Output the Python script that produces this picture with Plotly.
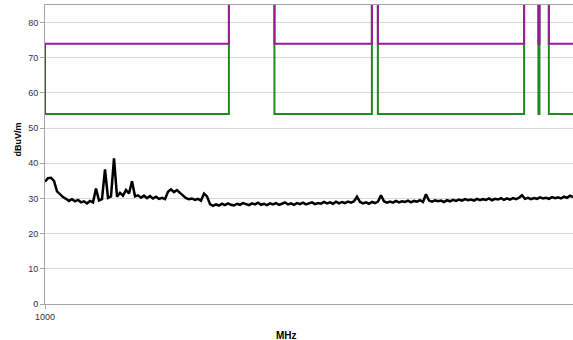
import numpy as np
import plotly.graph_objects as go

# Radiated emission scan, 1 GHz and up (dBuV/m)
emission_dbuv = [
    34.8, 35.8, 35.9, 35.0, 32.0, 31.2, 30.4, 29.9, 29.3, 29.8,
    29.2, 29.6, 28.9, 29.2, 28.6, 29.3, 28.9, 32.8, 29.4, 29.8,
    38.3, 30.2, 30.6, 41.4, 30.5, 31.6, 30.8, 32.4, 31.4, 34.9,
    30.6, 30.9, 30.2, 30.8, 30.1, 30.7, 30.0, 30.5, 29.9, 30.2,
    29.8, 31.9, 32.6, 31.8, 32.4, 31.6, 30.9, 30.1, 29.8, 30.0,
    29.6, 29.9, 29.4, 31.4, 30.6, 28.4, 27.9, 28.3, 28.0, 28.5,
    28.1, 28.6, 28.2, 28.0, 28.5, 28.2, 28.7, 28.3, 28.1, 28.6,
    28.3, 28.8, 28.2, 28.5, 28.1, 28.6, 28.3, 28.7, 28.2, 28.5,
    28.9, 28.3, 28.6, 28.2, 28.7, 28.4, 28.8, 28.3, 28.6, 28.9,
    28.4, 28.7, 28.5, 29.0, 28.6, 28.9, 28.5, 29.1, 28.6, 29.0,
    28.7, 29.1, 28.8, 29.2, 30.5, 29.0, 28.6, 28.9, 28.5, 29.0,
    28.7, 29.1, 30.9, 29.2, 28.8, 29.1, 28.8, 29.3, 28.9, 29.2,
    29.0, 29.4, 28.9, 29.3, 29.1, 29.5, 29.0, 31.2, 29.4, 29.1,
    29.5, 29.2, 29.4, 29.0, 29.5, 29.2, 29.6, 29.3, 29.7, 29.4,
    29.8, 29.5, 29.7, 29.4, 29.9, 29.5, 29.8, 29.6, 30.0, 29.5,
    29.9, 29.7, 30.1, 29.6, 30.0, 29.7, 30.1, 29.8, 30.2, 30.9,
    29.9, 30.2, 29.8, 30.1, 29.9, 30.3, 30.0, 30.2, 29.9, 30.4,
    30.1, 30.3, 30.0, 30.5, 30.2, 30.8, 30.4,
]
# Sweep points are log-spaced across the span
f_start_mhz = 1000
f_stop_mhz = 10000
scan_freq_mhz = np.geomspace(f_start_mhz, f_stop_mhz, len(emission_dbuv))

# Limit lines; 100 dBuV/m marks bands with no limit (off scale)
avg_freq_mhz = [1000, 2230, 2720, 4160, 4270, 8080, 8600, 8640, 9000, 10000]
avg_limit = [54, 100, 54, 100, 54, 100, 54, 100, 54, 54]
peak_freq_mhz = [1000, 1000, 2230, 2720, 4160, 4270, 8080, 8600, 8640, 9000, 10000]
peak_limit = [54, 74, 100, 74, 100, 74, 100, 74, 100, 74, 74]

fig = go.Figure()
fig.add_trace(go.Scatter(x=avg_freq_mhz, y=avg_limit, mode="lines",
                         line=dict(color="#1f8a1f", width=2, shape="hv"),
                         name="Average limit"))
fig.add_trace(go.Scatter(x=peak_freq_mhz, y=peak_limit, mode="lines",
                         line=dict(color="#9a1a9a", width=2, shape="hv"),
                         name="Peak limit"))
fig.add_trace(go.Scatter(x=scan_freq_mhz, y=emission_dbuv, mode="lines",
                         line=dict(color="#000000", width=2.5),
                         name="Emission"))

font = "Liberation Sans, Arial, sans-serif"
fig.update_layout(
    width=573, height=340,
    margin=dict(l=45, r=0, t=5, b=36),
    paper_bgcolor="white", plot_bgcolor="white",
    showlegend=False,
    font=dict(family=font, size=9, color="#333333"),
    xaxis=dict(
        type="log", range=[3, 4],
        tickvals=[1000], ticktext=["1000"],
        showgrid=False, zeroline=False,
        showline=True, linecolor="#a6a6a6", linewidth=1, mirror=True,
        ticks="outside", ticklen=4, tickcolor="#a6a6a6",
    ),
    yaxis=dict(
        range=[0, 85], tickvals=[0, 10, 20, 30, 40, 50, 60, 70, 80],
        showgrid=True, gridcolor="#d9d9d9", gridwidth=1, zeroline=False,
        showline=True, linecolor="#a6a6a6", linewidth=1,
        ticks="outside", ticklen=4, tickcolor="#a6a6a6",
    ),
    annotations=[
        dict(text="<b>MHz</b>", xref="paper", yref="paper",
             x=0.457, y=0, yshift=-24, xanchor="center", yanchor="top",
             showarrow=False, font=dict(family=font, size=10, color="#000000")),
        dict(text="<b>dBuV/m</b>", xref="paper", yref="paper",
             x=0, xshift=-27, y=0.55, xanchor="center", yanchor="middle",
             textangle=-90, showarrow=False,
             font=dict(family=font, size=9, color="#000000")),
    ],
)

fig.write_html("out.html")
